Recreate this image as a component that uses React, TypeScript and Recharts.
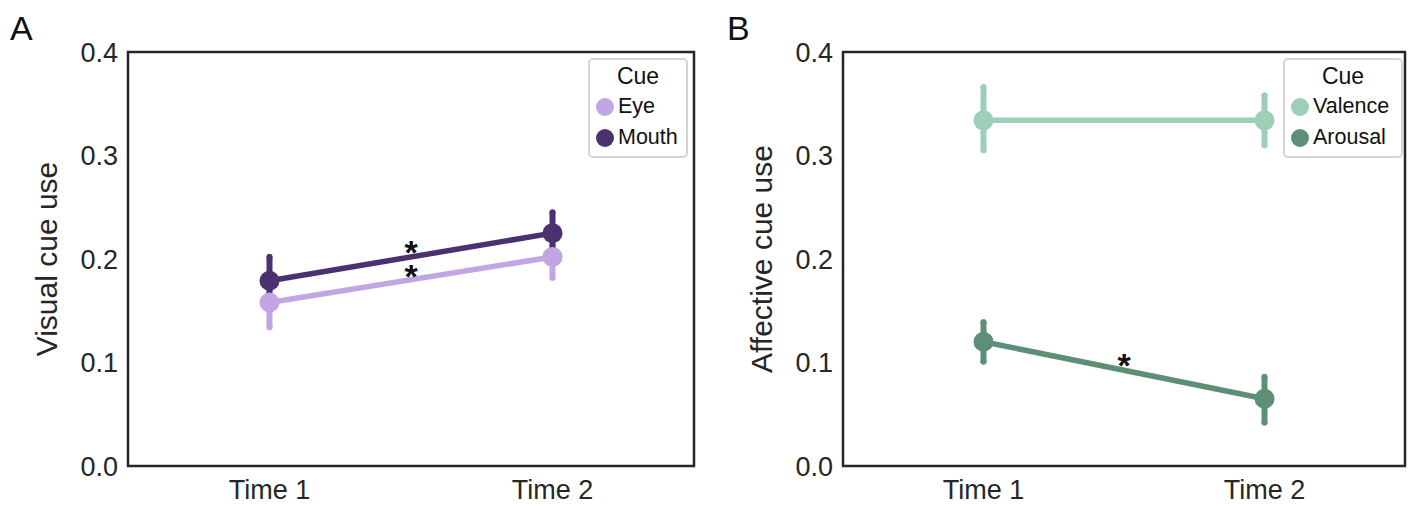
import React from "react"
import { LineChart, Line, XAxis, YAxis, ErrorBar, ReferenceDot, ReferenceArea, Legend } from "recharts"

const times = ["Time 1", "Time 2"]
const timeIdx = [1, 2]
const yTicks = [0, 0.1, 0.2, 0.3, 0.4]

// panel A – visual cues
const eyeMean = [0.158, 0.202]
const eyeLow = [0.134, 0.182]
const eyeHigh = [0.181, 0.222]
const mouthMean = [0.179, 0.225]
const mouthLow = [0.156, 0.204]
const mouthHigh = [0.202, 0.245]
const starsA = [0.214, 0.19]

// panel B – affective cues
const valenceMean = [0.334, 0.334]
const valenceLow = [0.305, 0.31]
const valenceHigh = [0.366, 0.358]
const arousalMean = [0.12, 0.065]
const arousalLow = [0.101, 0.042]
const arousalHigh = [0.139, 0.086]
const starsB = [0.104]

const FONT = "'Liberation Sans', Arial, sans-serif"
const INK = "#262626"

const dataA = timeIdx.map((x, i) => ({
    x,
    eye: eyeMean[i],
    eyeErr: [eyeMean[i] - eyeLow[i], eyeHigh[i] - eyeMean[i]],
    mouth: mouthMean[i],
    mouthErr: [mouthMean[i] - mouthLow[i], mouthHigh[i] - mouthMean[i]],
}))

const dataB = timeIdx.map((x, i) => ({
    x,
    valence: valenceMean[i],
    valenceErr: [valenceMean[i] - valenceLow[i], valenceHigh[i] - valenceMean[i]],
    arousal: arousalMean[i],
    arousalErr: [arousalMean[i] - arousalLow[i], arousalHigh[i] - arousalMean[i]],
}))

const Star = (props: any) => (
    <text
        x={props.cx}
        y={props.cy + 19}
        textAnchor="middle"
        fontSize={34}
        fontWeight="bold"
        fontFamily={FONT}
        fill="#111"
    >
        *
    </text>
)

const CueLegend = ({ payload, width, order }: any) => {
    const items = [...(payload || [])].sort(
        (a: any, b: any) => order.indexOf(a.value) - order.indexOf(b.value)
    )
    return (
        <div
            style={{
                width,
                boxSizing: "border-box",
                border: "2px solid #d4d4d4",
                borderRadius: 5,
                background: "#fff",
                fontFamily: FONT,
                color: "#111",
                padding: "1px 0 3px 0",
            }}
        >
            <div style={{ textAlign: "center", fontSize: 23, lineHeight: "30px" }}>Cue</div>
            {items.map((p: any) => (
                <div key={p.value} style={{ display: "flex", alignItems: "center", height: 31, fontSize: 21.5 }}>
                    <span
                        style={{
                            width: 18,
                            height: 18,
                            borderRadius: 9,
                            background: p.color,
                            marginLeft: 6,
                            marginRight: 4,
                        }}
                    />
                    {p.value}
                </div>
            ))}
        </div>
    )
}

function Panel({ data, series, stars, yLabel, width, marginLeft, marginRight, legendLeft, legendWidth }: any) {
    const order = series.map((s: any) => s.name)
    return (
        <LineChart
            width={width}
            height={506}
            data={data}
            margin={{ top: 52, right: marginRight, bottom: 0, left: marginLeft }}
        >
            <XAxis
                dataKey="x"
                type="number"
                domain={[0.5, 2.5]}
                ticks={timeIdx}
                tickFormatter={(v: number) => times[v - 1]}
                tickLine={false}
                axisLine={false}
                tick={{ fontSize: 27, fill: INK, fontFamily: FONT }}
                tickMargin={8}
                height={40}
            />
            <YAxis
                domain={[0, 0.4]}
                ticks={yTicks}
                tickFormatter={(v: number) => v.toFixed(1)}
                tickLine={false}
                axisLine={false}
                tick={{ fontSize: 27, fill: INK, fontFamily: FONT }}
                tickMargin={4}
                width={100}
                label={{
                    value: yLabel,
                    angle: -90,
                    position: "insideLeft",
                    offset: 18,
                    style: { textAnchor: "middle", fontSize: 30, fill: INK, fontFamily: FONT },
                }}
            />
            <ReferenceArea
                x1={0.5}
                x2={2.5}
                y1={0}
                y2={0.4}
                fill="none"
                fillOpacity={0}
                stroke={INK}
                strokeWidth={2.5}
            />
            {series.map((s: any) => (
                <Line
                    key={s.key}
                    dataKey={s.key}
                    name={s.name}
                    stroke={s.color}
                    strokeWidth={5.5}
                    dot={{ r: 10, fill: s.color, stroke: "none" }}
                    activeDot={false}
                    isAnimationActive={false}
                >
                    <ErrorBar
                        dataKey={s.key + "Err"}
                        width={0}
                        strokeWidth={6}
                        stroke={s.color}
                        direction="y"
                        strokeLinecap="round"
                        isAnimationActive={false}
                    />
                </Line>
            ))}
            {stars.map((v: number, i: number) => (
                <ReferenceDot key={i} x={1.5} y={v} r={0} shape={Star} ifOverflow="visible" />
            ))}
            <Legend
                layout="horizontal"
                verticalAlign="middle"
                align="center"
                content={(p: any) => <CueLegend payload={p.payload} width={legendWidth} order={order} />}
                wrapperStyle={{ top: 58, left: legendLeft, width: legendWidth }}
            />
        </LineChart>
    )
}

export default function App() {
    return (
        <div style={{ position: "absolute", left: 0, top: 0, width: 1416, height: 506, background: "#fff" }}>
            <div style={{ position: "absolute", left: 0, top: 0 }}>
                <Panel
                    data={dataA}
                    series={[
                        { key: "eye", name: "Eye", color: "#c2a6e3" },
                        { key: "mouth", name: "Mouth", color: "#4a3270" },
                    ]}
                    stars={starsA}
                    yLabel="Visual cue use"
                    width={710}
                    marginLeft={28}
                    marginRight={16}
                    legendLeft={588}
                    legendWidth={100}
                />
            </div>
            <div style={{ position: "absolute", left: 710, top: 0 }}>
                <Panel
                    data={dataB}
                    series={[
                        { key: "valence", name: "Valence", color: "#9dcfb7" },
                        { key: "arousal", name: "Arousal", color: "#5d8f77" },
                    ]}
                    stars={starsB}
                    yLabel="Affective cue use"
                    width={706}
                    marginLeft={33}
                    marginRight={11}
                    legendLeft={573}
                    legendWidth={120}
                />
            </div>
            <div style={{ position: "absolute", left: 10, top: 9, fontSize: 34, fontFamily: FONT, color: "#111" }}>A</div>
            <div style={{ position: "absolute", left: 727, top: 9, fontSize: 34, fontFamily: FONT, color: "#111" }}>B</div>
        </div>
    )
}
